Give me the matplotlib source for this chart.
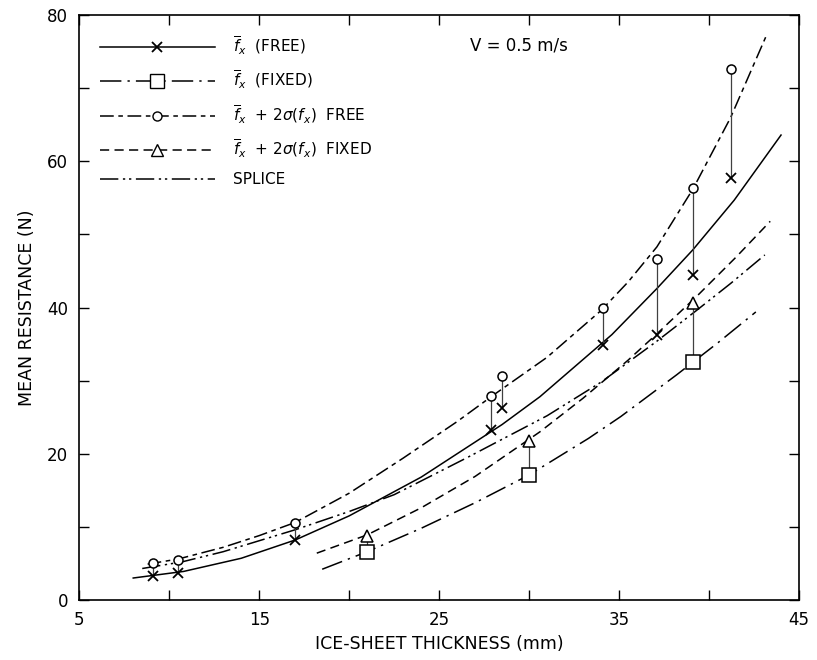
import matplotlib
matplotlib.use("Agg")
import matplotlib.pyplot as plt
from matplotlib.lines import Line2D

plt.rcParams['font.family'] = ['DejaVu Sans']
plt.rcParams['mathtext.fontset'] = 'dejavusans'

# measured points (ice thickness mm, resistance N)
free_x = [9.1, 10.5, 17.0, 27.9, 28.5, 34.1, 37.1, 39.1, 41.2]
free_mean = [3.3, 3.7, 8.2, 23.3, 26.2, 34.9, 36.2, 44.5, 57.7]
free_2sig = [5.0, 5.5, 10.5, 27.9, 30.7, 39.9, 46.7, 56.4, 72.7]

fixed_x = [21.0, 30.0, 39.1]
fixed_mean = [6.6, 17.1, 32.6]
fixed_2sig = [8.7, 21.7, 40.6]

# fitted curves
free_fit_x = [8.0, 10.8, 14, 17, 20, 24, 28.5, 30.6, 34.6, 37.1, 39.1, 41.4, 44.0]
free_fit_y = [3.0, 3.9, 5.7, 8.2, 11.5, 16.8, 24.0, 27.8, 36.3, 42.6, 47.9, 54.7, 63.6]

fixed_fit_x = [18.5, 21, 24, 27, 30, 33.3, 35.1, 38.2, 40.5, 42.6]
fixed_fit_y = [4.2, 6.6, 9.8, 13.3, 17.1, 22.1, 25.1, 30.8, 35.2, 39.4]

free2_fit_x = [8.8, 10.5, 13, 15, 17, 20, 23, 26, 28, 31, 34, 35.5, 37.1, 39.1, 41.2, 43.2]
free2_fit_y = [4.9, 5.6, 7.2, 8.8, 10.6, 14.6, 19.4, 24.4, 28.0, 33.2, 39.6, 43.5, 48.3, 56.2, 66.0, 77.3]

fixed2_fit_x = [18.2, 21, 24, 27, 30.6, 33, 35.5, 37.1, 39.3, 41.5, 43.4]
fixed2_fit_y = [6.4, 8.9, 12.6, 16.9, 23.0, 27.6, 32.8, 36.4, 41.5, 46.9, 51.8]

splice_x = [8.5, 10.7, 13, 17, 20, 22.5, 26.5, 31, 34, 37.1, 39.3, 41.2, 43.1]
splice_y = [4.3, 5.2, 6.6, 9.6, 12.1, 14.4, 19.4, 25.2, 29.8, 35.4, 39.6, 43.3, 47.2]

ls_free = '-'
ls_fixed = (0, (14, 4, 1.5, 4))
ls_free2 = (0, (9, 3, 3, 3))
ls_fixed2 = (0, (6, 3.5))
ls_splice = (0, (12, 3, 1.5, 2.5, 1.5, 3))

fig, ax = plt.subplots(figsize=(8.17, 6.6), dpi=100)
fig.subplots_adjust(left=0.097, right=0.978, top=0.977, bottom=0.091)

lw = 1.1
ax.plot(free_fit_x, free_fit_y, color='black', lw=lw, linestyle=ls_free)
ax.plot(fixed_fit_x, fixed_fit_y, color='black', lw=lw, linestyle=ls_fixed)
ax.plot(free2_fit_x, free2_fit_y, color='black', lw=lw, linestyle=ls_free2)
ax.plot(fixed2_fit_x, fixed2_fit_y, color='black', lw=lw, linestyle=ls_fixed2)
ax.plot(splice_x, splice_y, color='black', lw=lw, linestyle=ls_splice)

# vertical connectors between mean and mean + 2 sigma
ax.vlines(free_x, free_mean, free_2sig, color='0.25', lw=0.9)
ax.vlines(fixed_x, fixed_mean, fixed_2sig, color='0.25', lw=0.9)

ax.plot(free_x, free_mean, 'x', color='black', ms=6.5, mew=1.3)
ax.plot(free_x, free_2sig, 'o', mfc='white', mec='black', ms=6.5, mew=1.1)
ax.plot(fixed_x, fixed_mean, 's', mfc='white', mec='black', ms=10, mew=1.1)
ax.plot(fixed_x, fixed_2sig, '^', mfc='white', mec='black', ms=9, mew=1.1)

handles = [
    Line2D([], [], color='black', lw=lw, linestyle=ls_free, marker='x', ms=6.5, mew=1.3),
    Line2D([], [], color='black', lw=lw, linestyle=ls_fixed, marker='s', mfc='white', ms=10),
    Line2D([], [], color='black', lw=lw, linestyle=ls_free2, marker='o', mfc='white', ms=6.5),
    Line2D([], [], color='black', lw=lw, linestyle=ls_fixed2, marker='^', mfc='white', ms=9),
    Line2D([], [], color='black', lw=lw, linestyle=ls_splice),
]
labels = [
    r'$\overline{f}_x$  (FREE)',
    r'$\overline{f}_x$  (FIXED)',
    r'$\overline{f}_x$  + 2$\sigma$($f_x$)  FREE',
    r'$\overline{f}_x$  + 2$\sigma$($f_x$)  FIXED',
    'SPLICE',
]
ax.legend(handles, labels, loc='upper left', bbox_to_anchor=(0.01, 0.99),
          frameon=False, handlelength=7.5, handletextpad=1.2,
          labelspacing=0.8, fontsize=11, numpoints=1)

ax.text(26.7, 75.9, 'V = 0.5 m/s', fontsize=12, va='center')

ax.set_xlim(5, 45)
ax.set_ylim(0, 80)
ax.set_xticks([5, 15, 25, 35, 45])
ax.set_xticks([10, 20, 30, 40], minor=True)
ax.set_yticks([0, 20, 40, 60, 80])
ax.set_yticks([10, 30, 50, 70], minor=True)
ax.tick_params(which='both', direction='in', top=True, right=True,
               length=7, width=1.0, labelsize=12, pad=8)
for sp in ax.spines.values():
    sp.set_linewidth(1.2)

ax.set_xlabel('ICE-SHEET THICKNESS (mm)', fontsize=12.5, labelpad=4)
ax.set_ylabel('MEAN RESISTANCE (N)', fontsize=12.5, labelpad=8)

fig.savefig('out.png', dpi=100)
